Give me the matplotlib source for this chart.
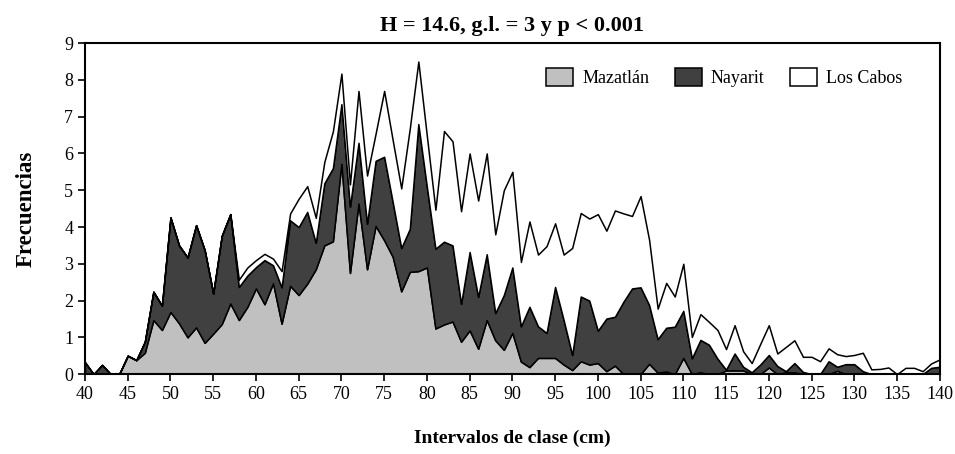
import matplotlib
matplotlib.use("Agg")
import matplotlib.pyplot as plt
import numpy as np

plt.rcParams["font.family"] = ["Liberation Serif", "DejaVu Serif"]

# class intervals (cm)
intervalos = np.arange(40, 141)

mazatlan = [
    0, 0, 0, 0, 0, 0.5, 0.38, 0.58, 1.47, 1.2,
    1.69, 1.38, 1.0, 1.27, 0.85, 1.1, 1.36, 1.92, 1.47, 1.83,
    2.33, 1.9, 2.47, 1.37, 2.4, 2.15, 2.46, 2.85, 3.5, 3.61,
    5.72, 2.75, 4.64, 2.85, 4.03, 3.64, 3.19, 2.25, 2.78, 2.8,
    2.9, 1.24, 1.35, 1.43, 0.88, 1.19, 0.69, 1.47, 0.92, 0.66,
    1.12, 0.34, 0.19, 0.44, 0.44, 0.44, 0.26, 0.11, 0.35, 0.26,
    0.3, 0.08, 0.23, 0, 0, 0, 0.28, 0.04, 0.07, 0,
    0.44, 0, 0.05, 0, 0, 0.1, 0.1, 0.1, 0, 0,
    0.18, 0, 0.05, 0.05, 0, 0, 0, 0, 0.09, 0,
    0, 0, 0, 0, 0, 0, 0, 0, 0, 0,
    0,
]

nayarit = [
    0.32, 0, 0.25, 0, 0, 0, 0, 0.3, 0.77, 0.66,
    2.57, 2.12, 2.17, 2.78, 2.52, 1.09, 2.4, 2.43, 0.9, 0.85,
    0.58, 1.2, 0.49, 0.99, 1.78, 1.85, 1.95, 0.72, 1.69, 1.99,
    1.62, 1.8, 1.65, 1.24, 1.77, 2.27, 1.49, 1.18, 1.17, 4.0,
    2.19, 2.17, 2.25, 2.07, 1.03, 2.13, 1.41, 1.79, 0.74, 1.49,
    1.78, 0.96, 1.64, 0.86, 0.68, 1.93, 1.21, 0.41, 1.76, 1.74,
    0.88, 1.43, 1.33, 1.97, 2.33, 2.36, 1.6, 0.91, 1.19, 1.29,
    1.28, 0.43, 0.88, 0.8, 0.42, 0.02, 0.46, 0.1, 0.05, 0.26,
    0.34, 0.22, 0.03, 0.25, 0.06, 0, 0, 0.35, 0.11, 0.27,
    0.27, 0.08, 0, 0, 0, 0, 0, 0, 0, 0.17,
    0.2,
]

los_cabos = [
    0, 0, 0, 0, 0, 0, 0, 0, 0, 0,
    0, 0, 0, 0, 0, 0, 0, 0, 0.2, 0.22,
    0.19, 0.17, 0.18, 0.44, 0.19, 0.77, 0.7, 0.68, 0.58, 1.0,
    0.83, 0.61, 1.41, 1.31, 0.74, 1.79, 1.68, 1.62, 2.73, 1.7,
    1.38, 1.06, 3.01, 2.83, 2.52, 2.68, 2.62, 2.74, 2.14, 2.85,
    2.6, 1.75, 2.32, 1.95, 2.36, 1.73, 1.78, 2.91, 2.27, 2.23,
    3.17, 2.39, 2.89, 2.4, 1.97, 2.48, 1.77, 0.83, 1.22, 0.82,
    1.28, 0.58, 0.7, 0.62, 0.78, 0.56, 0.77, 0.42, 0.25, 0.56,
    0.81, 0.34, 0.66, 0.62, 0.41, 0.47, 0.35, 0.35, 0.34, 0.22,
    0.25, 0.5, 0.13, 0.14, 0.18, 0, 0.17, 0.17, 0.08, 0.12,
    0.2,
]

etiquetas = ["Mazatlán", "Nayarit", "Los Cabos"]
colores = ["#c0c0c0", "#404040", "#ffffff"]

fig = plt.figure(figsize=(9.55, 4.54), dpi=100)
ax = fig.add_axes([0.089, 0.176, 0.895, 0.729])

ax.stackplot(intervalos, mazatlan, nayarit, los_cabos, labels=etiquetas,
             colors=colores, edgecolor="black", linewidth=1.1)

ax.set_xlim(40, 140)
ax.set_ylim(0, 9)
ax.set_xticks(np.arange(40, 141, 5))
ax.set_yticks(np.arange(0, 10, 1))
ax.tick_params(direction="out", length=5, width=1.2, labelsize=13)
for s in ax.spines.values():
    s.set_linewidth(1.5)

ax.set_title("H = 14.6, g.l. = 3 y p < 0.001", fontsize=16, fontweight="bold", pad=9)
ax.set_xlabel("Intervalos de clase (cm)", fontsize=14, fontweight="bold", labelpad=19)
ax.set_ylabel("Frecuencias", fontsize=16.5, fontweight="bold", labelpad=20)

ax.legend(loc="upper right", bbox_to_anchor=(0.975, 0.975), ncol=3, frameon=False,
          fontsize=13, handlelength=1.5, handleheight=1.15, columnspacing=1.4,
          handletextpad=0.5)

fig.savefig("out.png", dpi=100)
